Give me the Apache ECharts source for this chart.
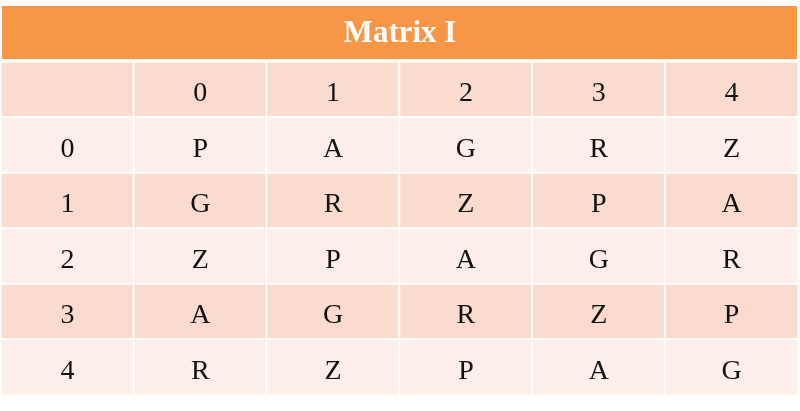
<!DOCTYPE html>
<html><head><meta charset="utf-8">
<script src="https://cdn.jsdelivr.net/npm/echarts@6/dist/echarts.min.js"></script>
<style>html,body{margin:0;padding:0;background:#fff}#c{width:800px;height:411px}</style>
</head><body><div id="c"></div>
<script>
const title = 'Matrix I';
const colLabels = ['0', '1', '2', '3', '4'];
const rowLabels = ['0', '1', '2', '3', '4'];
const matrix = [
  ['P', 'A', 'G', 'R', 'Z'],
  ['G', 'R', 'Z', 'P', 'A'],
  ['Z', 'P', 'A', 'G', 'R'],
  ['A', 'G', 'R', 'Z', 'P'],
  ['R', 'Z', 'P', 'A', 'G']
];

const dark = '#fcdbcf', light = '#fdeee9';
const cells = [];
// row 0 of the grid = header row
for (let c = 0; c < 6; c++) {
  cells.push({ value: [c, 0, 0], text: c === 0 ? '' : colLabels[c - 1], itemStyle: { color: dark } });
}
rowLabels.forEach((r, i) => {
  const col = i % 2 === 0 ? light : dark;
  cells.push({ value: [0, i + 1, 0], text: r, itemStyle: { color: col } });
  matrix[i].forEach((v, j) => {
    cells.push({ value: [j + 1, i + 1, 0], text: v, itemStyle: { color: col } });
  });
});

const chart = echarts.init(document.getElementById('c'));
chart.setOption({
  animation: false,
  grid: { left: 1, right: 2, top: 62, bottom: 16 },
  xAxis: { type: 'category', data: [0, 1, 2, 3, 4, 5], show: false },
  yAxis: { type: 'category', data: [0, 1, 2, 3, 4, 5], inverse: true, show: false },
  graphic: [
    { type: 'rect', shape: { x: 2, y: 6, width: 795, height: 53 }, style: { fill: '#f79646' } },
    { type: 'text', x: 400, y: 34, style: { text: title, fill: '#fff', font: 'bold 31px "Liberation Serif", serif', align: 'center', verticalAlign: 'middle' } }
  ],
  series: [{
    type: 'heatmap',
    data: cells,
    itemStyle: { borderColor: '#fff', borderWidth: 2 },
    label: {
      show: true,
      formatter: p => p.data.text,
      color: '#111',
      fontFamily: '"Liberation Serif", serif',
      fontSize: 28,
      offset: [0, 4]
    },
    emphasis: { disabled: true }
  }]
});
</script></body></html>
